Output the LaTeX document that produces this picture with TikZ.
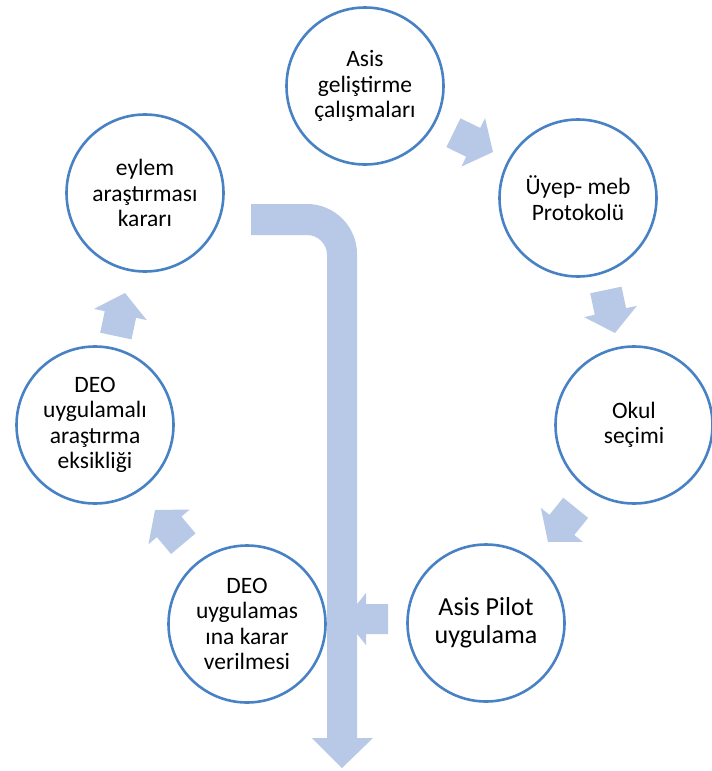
\documentclass[tikz,border=0pt]{standalone}
\usepackage{fontspec}
\setmainfont{Carlito}
\definecolor{ringblue}{RGB}{72,130,196}
\definecolor{arrowblue}{RGB}{183,201,231}
\begin{document}
\begin{tikzpicture}[x=1pt,y=1pt,
  stage/.style={circle, draw=ringblue, line width=2.6pt, fill=white,
    minimum size=157pt, inner sep=0pt, align=center,
    font=\fontsize{23.5}{25.5}\selectfont},
  bigstage/.style={stage, font=\fontsize{26}{28}\selectfont},
  blockarrow/.style={fill=arrowblue, draw=none}]
\useasboundingbox (0,0) rectangle (712,-771);

% small block arrows between the stages (tip at origin, pointing along +x)
\def\blockpath{(0,0) -- (-22,27) -- (-22,16) -- (-44,16) -- (-44,-16) -- (-22,-16) -- (-22,-27) -- cycle}
\path[blockarrow, shift={(493,-152)}, rotate=-26] \blockpath;
\path[blockarrow, shift={(615,-333)}, rotate=-78] \blockpath;
\path[blockarrow, shift={(548,-542)}, rotate=-129] \blockpath;
\path[blockarrow, shift={(155,-510)}, rotate=130] \blockpath;
\path[blockarrow, shift={(125,-293)}, rotate=78] \blockpath;
% arrow from pilot stage into the big bar
\path[blockarrow, shift={(345,-619)}, rotate=180]
  (0,0) -- (-21,26) -- (-21,15) -- (-43,15) -- (-43,-15) -- (-21,-15) -- (-21,-26) -- cycle;

% big bent arrow
\coordinate (bigstart) at (251,-219.5);
\coordinate (bigtip) at (342,-768);
\fill[arrowblue] (251,-204) -- (307,-204) arc[start angle=90, end angle=0, radius=50]
  -- (357,-738) -- (373,-738) -- (bigtip) -- (312,-738) -- (327,-738)
  -- (327,-255) arc[start angle=0, end angle=90, radius=20] -- (251,-235) -- cycle;

% stages
\node[stage] (c1) at (365,-86) {Asis\\geliştirme\\çalışmaları};
\node[stage] (c2) at (578,-198) {Üyep- meb\\Protokolü};
\node[stage] (c3) at (634,-425) {Okul\\seçimi};
\node[bigstage] (c4) at (486,-623) {Asis Pilot\\uygulama};
\node[stage] (c5) at (247,-624) {DEO\\uygulamas\\ına karar\\verilmesi};
\node[stage] (c6) at (95,-425) {DEO\\uygulamalı\\araştırma\\eksikliği};
\node[stage] (c7) at (145,-193) {eylem\\araştırması\\kararı};
\end{tikzpicture}
\end{document}
